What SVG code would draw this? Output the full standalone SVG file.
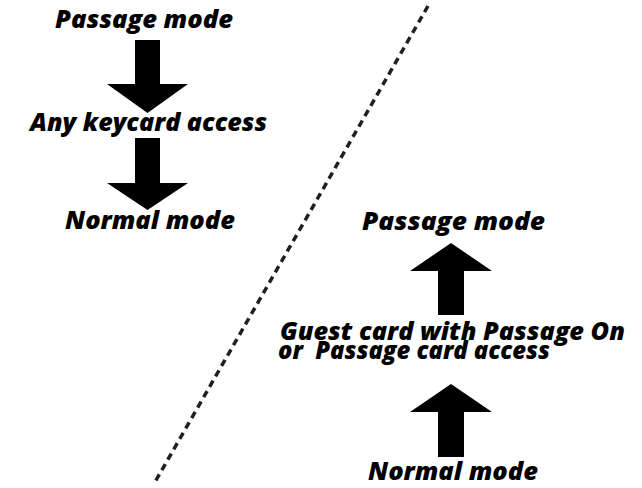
<svg xmlns="http://www.w3.org/2000/svg" width="642" height="488" viewBox="0 0 642 488">
<style>
.lbl{font-family:"Open Sans","Noto Sans","Liberation Sans",sans-serif;font-weight:800;font-style:italic;font-size:25px;fill:#000}
.two{font-size:24px}
.arr{fill:#000}
.sep{fill:none;stroke:#231f20;stroke-width:3.5;stroke-dasharray:7 5}
</style>
<rect width="642" height="488" fill="#fff"/>
<line class="sep" x1="428" y1="6" x2="155" y2="482"/>
<g id="left-passage"><text class="lbl" x="144" y="28" text-anchor="middle" textLength="178" lengthAdjust="spacingAndGlyphs">Passage mode</text></g>
<g id="left-any"><text class="lbl" x="148.5" y="131" text-anchor="middle" textLength="237" lengthAdjust="spacingAndGlyphs">Any keycard access</text></g>
<g id="left-normal"><text class="lbl" x="150" y="229" text-anchor="middle" textLength="170" lengthAdjust="spacingAndGlyphs">Normal mode</text></g>
<g id="right-passage"><text class="lbl" x="453.5" y="230" text-anchor="middle" textLength="183" lengthAdjust="spacingAndGlyphs">Passage mode</text></g>
<g id="right-guest"><text class="lbl two" x="280" y="340" textLength="345" lengthAdjust="spacingAndGlyphs">Guest card with Passage On</text><text class="lbl two" x="278" y="359" textLength="272" lengthAdjust="spacingAndGlyphs" xml:space="preserve">or  Passage card access</text></g>
<g id="right-normal"><text class="lbl" x="453" y="480" text-anchor="middle" textLength="170" lengthAdjust="spacingAndGlyphs">Normal mode</text></g>
<g id="connectors">
<path class="arr" d="M135 40H160V84H188L147.5 113L107 84H135Z"/>
<path class="arr" d="M135 138H160V183H188L147.5 210L107 183H135Z"/>
<path class="arr" d="M438 315H464V271H492L451 243L410 271H438Z"/>
<path class="arr" d="M438 457H464V412H492L451 384L410 412H438Z"/>
</g>
</svg>
